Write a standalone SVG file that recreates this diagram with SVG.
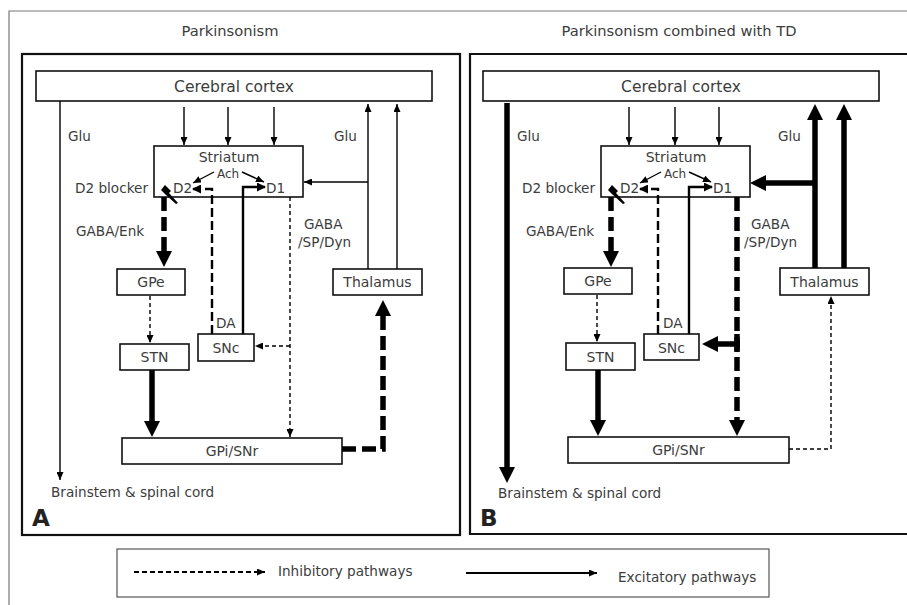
<svg xmlns="http://www.w3.org/2000/svg" width="907" height="605" viewBox="0 0 907 605">
<defs>
<style>
text{font-family:"DejaVu Sans","Liberation Sans",sans-serif;fill:#3c3c3c}
.t{font-size:14.7px;text-anchor:middle}
.cx{font-size:15.5px;text-anchor:middle}
.n{font-size:14px;text-anchor:middle}
.l{font-size:13.6px}
.s{font-size:12px}
.big{font-family:"DejaVu Sans","Liberation Sans",sans-serif;font-size:23px;font-weight:bold;fill:#222}
.frame{fill:none;stroke:#777;stroke-width:1.2}
.panel{fill:none;stroke:#111;stroke-width:2.2}
.box{fill:#fff;stroke:#111;stroke-width:1.6}
.leg{fill:#fff;stroke:#555;stroke-width:1.2}
.c{fill:none;stroke:#000}
.thin{stroke-width:1.4}
.thind{stroke-width:1.4;stroke-dasharray:4 3}
.med{stroke-width:2.4}
.medd{stroke-width:2.4;stroke-dasharray:9 4}
.thick{stroke-width:5.5}
.thickd{stroke-width:5.5;stroke-dasharray:14 6}
.legd{stroke-width:1.8;stroke-dasharray:5 3}
.legs{stroke-width:1.8}
</style>
<marker id="ah" markerUnits="userSpaceOnUse" viewBox="0 0 8 7" markerWidth="8" markerHeight="7" refX="8" refY="3.5" orient="auto"><path d="M0,0 L8,3.5 L0,7 Z" fill="#000"/></marker>
<marker id="ahm" markerUnits="userSpaceOnUse" viewBox="0 0 9 9" markerWidth="9" markerHeight="9" refX="8" refY="4.5" orient="auto"><path d="M0,0 L9,4.5 L0,9 Z" fill="#000"/></marker>
<marker id="ahb" markerUnits="userSpaceOnUse" viewBox="0 0 16 16" markerWidth="16" markerHeight="16" refX="1" refY="8" orient="auto"><path d="M0,0 L16,8 L0,16 Z" fill="#000"/></marker>
</defs>

<rect width="907" height="605" fill="#fff"/>
<path class="frame" d="M9,605 L9,11 L907,11"/>
<rect class="panel" x="22" y="54" width="438" height="481"/>
<path class="panel" d="M910,54 L470,54 L470,534 L910,534"/>

<text class="t" x="230" y="36">Parkinsonism</text>
<text class="t" x="679" y="36">Parkinsonism combined with TD</text>

<!-- ===== Panel A nodes ===== -->
<g id="A-cortex"><rect class="box" x="36" y="71" width="396" height="30"/><text class="cx" x="234" y="91.5">Cerebral cortex</text></g>
<g id="A-striatum"><rect class="box" x="154" y="146" width="149" height="51"/><text class="n" x="229" y="162">Striatum</text><text class="s" x="228" y="178" text-anchor="middle">Ach</text><text class="l" x="173" y="193">D2</text><text class="l" x="266" y="193">D1</text></g>
<g id="A-gpe"><rect class="box" x="117" y="269" width="68" height="26"/><text class="n" x="151" y="287">GPe</text></g>
<g id="A-stn"><rect class="box" x="120" y="344" width="69" height="26"/><text class="n" x="154.5" y="362">STN</text></g>
<g id="A-snc"><rect class="box" x="198" y="334" width="56" height="27"/><text class="n" x="226" y="353">SNc</text></g>
<g id="A-thalamus"><rect class="box" x="333" y="269" width="89" height="26"/><text class="n" x="377.5" y="287">Thalamus</text></g>
<g id="A-gpi"><rect class="box" x="122" y="438" width="220" height="26"/><text class="n" x="232" y="456">GPi/SNr</text></g>

<!-- ===== Panel B nodes ===== -->
<g id="B-cortex"><rect class="box" x="483" y="71" width="396" height="30"/><text class="cx" x="681" y="91.5">Cerebral cortex</text></g>
<g id="B-striatum"><rect class="box" x="601" y="146" width="149" height="51"/><text class="n" x="676" y="162">Striatum</text><text class="s" x="675" y="178" text-anchor="middle">Ach</text><text class="l" x="620" y="193">D2</text><text class="l" x="713" y="193">D1</text></g>
<g id="B-gpe"><rect class="box" x="564" y="268" width="68" height="26"/><text class="n" x="598" y="286">GPe</text></g>
<g id="B-stn"><rect class="box" x="566" y="343" width="69" height="27"/><text class="n" x="600.5" y="362">STN</text></g>
<g id="B-snc"><rect class="box" x="644" y="334" width="55" height="26"/><text class="n" x="671.5" y="353">SNc</text></g>
<g id="B-thalamus"><rect class="box" x="780" y="268" width="89" height="27"/><text class="n" x="824.5" y="287">Thalamus</text></g>
<g id="B-gpi"><rect class="box" x="568" y="437" width="221" height="26"/><text class="n" x="678.5" y="455">GPi/SNr</text></g>

<!-- ===== Connectors ===== -->
<g id="connectors">
<!-- Panel A -->
<path class="c thin" d="M60,101 L60,480" marker-end="url(#ah)"/>
<path class="c thin" d="M184,107 L184,145" marker-end="url(#ah)"/>
<path class="c thin" d="M228,107 L228,145" marker-end="url(#ah)"/>
<path class="c thin" d="M274,107 L274,145" marker-end="url(#ah)"/>
<path class="c thin" d="M214,172 L193,183" marker-end="url(#ah)"/>
<path class="c thin" d="M242,172 L264,182" marker-end="url(#ah)"/>
<path class="c medd" d="M212,334 L212,189 L193,189" marker-end="url(#ahm)"/>
<path class="c med" d="M243,334 L243,187 L265,187" marker-end="url(#ahm)"/>
<path class="c thickd" d="M164,197 L164,252" marker-end="url(#ahb)"/>
<path d="M161,190 L165,185 L171,191 L169,193 L178,203 L176,204 L166,195 Z" fill="#000"/>
<path class="c thind" d="M150,296 L150,343" marker-end="url(#ah)"/>
<path class="c thick" d="M152,370 L152,422" marker-end="url(#ahb)"/>
<path class="c thind" d="M290,197 L290,437" marker-end="url(#ah)"/>
<path class="c thind" d="M290,346 L255,346" marker-end="url(#ah)"/>
<path class="c thin" d="M368,269 L368,104" marker-end="url(#ah)"/>
<path class="c thin" d="M397,269 L397,104" marker-end="url(#ah)"/>
<path class="c thin" d="M368,182 L304,182" marker-end="url(#ah)"/>
<path class="c thickd" d="M342,449 L383,449 L383,315" marker-end="url(#ahb)"/>
<!-- Panel B -->
<path class="c thick" d="M507,103 L507,468" marker-end="url(#ahb)"/>
<path class="c thin" d="M629,107 L629,145" marker-end="url(#ah)"/>
<path class="c thin" d="M675,107 L675,145" marker-end="url(#ah)"/>
<path class="c thin" d="M719,107 L719,145" marker-end="url(#ah)"/>
<path class="c thin" d="M661,172 L640,183" marker-end="url(#ah)"/>
<path class="c thin" d="M689,172 L711,182" marker-end="url(#ah)"/>
<path class="c medd" d="M658,334 L658,189 L640,189" marker-end="url(#ahm)"/>
<path class="c med" d="M689,334 L689,187 L712,187" marker-end="url(#ahm)"/>
<path class="c thickd" d="M611,197 L611,252" marker-end="url(#ahb)"/>
<path d="M608,190 L612,185 L618,191 L616,193 L625,203 L623,204 L613,195 Z" fill="#000"/>
<path class="c thind" d="M597,295 L597,342" marker-end="url(#ah)"/>
<path class="c thick" d="M598,370 L598,421" marker-end="url(#ahb)"/>
<path class="c thickd" d="M737,197 L737,421" marker-end="url(#ahb)"/>
<path class="c thick" d="M740,344 L717,344" marker-end="url(#ahb)"/>
<path class="c thick" d="M737,334 L737,352"/>
<path class="c thick" d="M815,268 L815,119" marker-end="url(#ahb)"/>
<path class="c thick" d="M844,268 L844,119" marker-end="url(#ahb)"/>
<path class="c thick" d="M817,183 L765,183" marker-end="url(#ahb)"/>
<path class="c thind" d="M789,449 L831,449 L831,296" marker-end="url(#ah)"/>
</g>

<!-- ===== Labels ===== -->
<g id="labels-A">
<text class="l" x="68" y="141">Glu</text>
<text class="l" x="334" y="141">Glu</text>
<text class="l" x="148" y="193" text-anchor="end">D2 blocker</text>
<text class="l" x="76" y="236">GABA/Enk</text>
<text class="l" x="304" y="229">GABA</text>
<text class="l" x="298" y="247">/SP/Dyn</text>
<text class="l" x="216" y="328">DA</text>
<text class="l" x="51" y="497">Brainstem &amp; spinal cord</text>
<text class="big" x="32" y="526">A</text>
</g>
<g id="labels-B">
<text class="l" x="517" y="141">Glu</text>
<text class="l" x="778" y="141">Glu</text>
<text class="l" x="595" y="193" text-anchor="end">D2 blocker</text>
<text class="l" x="526" y="236">GABA/Enk</text>
<text class="l" x="751" y="229">GABA</text>
<text class="l" x="744" y="247">/SP/Dyn</text>
<text class="l" x="663" y="328">DA</text>
<text class="l" x="498" y="498">Brainstem &amp; spinal cord</text>
<text class="big" x="480" y="526">B</text>
</g>

<g id="legend">
<rect class="leg" x="117" y="549" width="652" height="48"/>
<path class="c legd" d="M134,572 L265,572" marker-end="url(#ah)"/>
<text class="l" x="278" y="576">Inhibitory pathways</text>
<path class="c legs" d="M466,573 L597,573" marker-end="url(#ah)"/>
<text class="l" x="618" y="582">Excitatory pathways</text>
</g>
</svg>
